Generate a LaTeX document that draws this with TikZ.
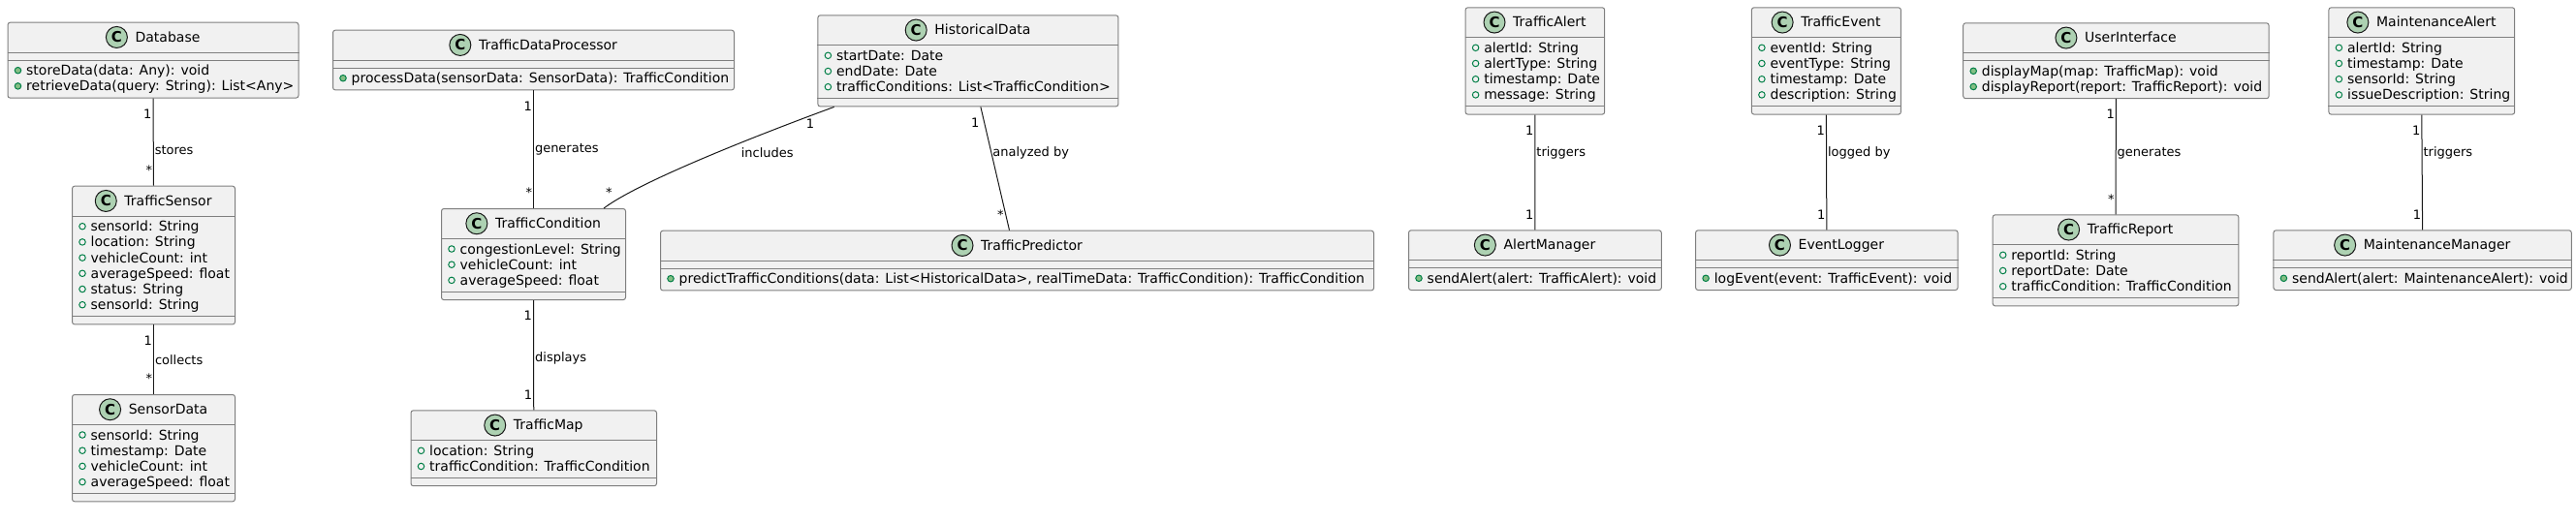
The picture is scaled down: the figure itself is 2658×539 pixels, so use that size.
\documentclass[tikz,border=0pt]{standalone}
\usepackage{fontspec}
\setmainfont{DejaVu Sans}
\usepackage{tikz}
\usetikzlibrary{calc}
\definecolor{clsfill}{HTML}{F1F1F1}
\definecolor{clsborder}{HTML}{7F7F7F}
\definecolor{clsstroke}{HTML}{181818}
\definecolor{clsicon}{HTML}{ADD1B2}
\definecolor{visgreen}{HTML}{038048}
\definecolor{vislight}{HTML}{84BE84}
\tikzset{
  classbox/.style   = {rectangle, rounded corners=2.5pt, draw=clsborder, line width=1pt,
                       fill=clsfill, inner sep=0pt, anchor=north west},
  classline/.style  = {draw=clsborder, line width=1pt},
  ctitle/.style     = {inner sep=0pt, text height=13pt, text depth=3.3pt,
                       font=\fontsize{14}{16}\selectfont},
  cicon/.style      = {circle, draw=clsstroke, fill=clsicon, line width=1pt, minimum size=22pt,
                       inner sep=0pt, font=\fontsize{15}{15}\selectfont\bfseries},
  member/.style     = {inner sep=0pt, anchor=base west, font=\fontsize{14}{16}\selectfont},
  fieldicon/.style  = {circle, draw=visgreen, line width=1pt, minimum size=6.5pt, inner sep=0pt},
  methodicon/.style = {fieldicon, fill=vislight},
  assoc/.style      = {draw=clsstroke, line width=1pt},
  lbl/.style        = {inner sep=1pt, anchor=west, font=\fontsize{13}{15}\selectfont},
  mult/.style       = {inner sep=0pt, text height=9.5pt, text depth=0pt,
                       font=\fontsize{13}{15}\selectfont},
  mtail/.style      = {mult, at start, anchor=east, xshift=-1pt, yshift=-16pt},
  mhead/.style      = {mult, at end, anchor=east, xshift=-1pt, yshift=16pt},
}
% number of entries in a list -> #2
\newcommand{\countlist}[2]{\def\tmplist{#1}%
  \ifx\tmplist\empty\gdef#2{0}\else\foreach \x [count=\k] in {#1} {\xdef#2{\k}}\fi}
% id, top left, width, name, fields, methods
\newcommand{\umlclass}[6]{%
  \countlist{#5}{\nfields}\countlist{#6}{\nmethods}%
  \pgfmathsetmacro{\secA}{\nfields==0 ? 8 : 16.2*\nfields+6}%
  \pgfmathsetmacro{\secB}{\nmethods==0 ? 8 : 16.2*\nmethods+6}%
  \pgfmathsetmacro{\sepB}{31.5+\secA}%
  \pgfmathsetmacro{\boxh}{\sepB+\secB}%
  \node[classbox, minimum width=#3pt, minimum height=\boxh pt] (#1) at (#2) {};
  \draw[classline] ([yshift=-31.5pt]#1.north west) -- ([yshift=-31.5pt]#1.north east);
  \draw[classline] ([yshift=-\sepB*1pt]#1.north west) -- ([yshift=-\sepB*1pt]#1.north east);
  \node[ctitle] (#1-name) at ([xshift=15pt, yshift=-15.75pt]#1.north) {#4};
  \node[cicon] (#1-icon) at ([xshift=-19pt]#1-name.west) {C};
  \ifnum\nfields>0
    \foreach \m [count=\k] in {#5} {
      \pgfmathsetmacro{\by}{31.5+15.5+16.2*(\k-1)}
      \node[fieldicon] at ([xshift=11pt, yshift={-(\by-5)*1pt}]#1.north west) {};
      \node[member] at ([xshift=19.5pt, yshift=-\by*1pt]#1.north west) {\m};
    }
  \fi
  \ifnum\nmethods>0
    \foreach \m [count=\k] in {#6} {
      \pgfmathsetmacro{\by}{\sepB+15.5+16.2*(\k-1)}
      \node[methodicon] at ([xshift=11pt, yshift={-(\by-5)*1pt}]#1.north west) {};
      \node[member] at ([xshift=19.5pt, yshift=-\by*1pt]#1.north west) {\m};
    }
  \fi
}

\begin{document}
\begin{tikzpicture}[x=1pt, y=-1pt]
  \useasboundingbox (0,0) rectangle (2658,539);

  \umlclass{db}{7.5,22.7}{300}{Database}{}
    {storeData(data: Any): void, retrieveData(query: String): List<Any>}
  \umlclass{ts}{74,191.7}{168}{TrafficSensor}
    {sensorId: String, location: String, vehicleCount: int, averageSpeed: float,
     status: String, sensorId: String}{}
  \umlclass{sd}{74,407}{168}{SensorData}
    {sensorId: String, timestamp: Date, vehicleCount: int, averageSpeed: float}{}
  \umlclass{tdp}{343,30.7}{414}{TrafficDataProcessor}{}
    {processData(sensorData: SensorData): TrafficCondition}
  \umlclass{tc}{455,215}{190}{TrafficCondition}
    {congestionLevel: String, vehicleCount: int, averageSpeed: float}{}
  \umlclass{tm}{423.5,423.3}{253.5}{TrafficMap}
    {location: String, trafficCondition: TrafficCondition}{}
  \umlclass{hd}{843.4,15.3}{310}{HistoricalData}
    {startDate: Date, endDate: Date, trafficConditions: List<TrafficCondition>}{}
  \umlclass{tp}{681,237.7}{736}{TrafficPredictor}{}
    {{predictTrafficConditions(data: List<HistoricalData>, realTimeData: TrafficCondition): TrafficCondition}}
  \umlclass{ta}{1511.6,7.3}{143.6}{TrafficAlert}
    {alertId: String, alertType: String, timestamp: Date, message: String}{}
  \umlclass{am}{1453,237.3}{260.8}{AlertManager}{}
    {sendAlert(alert: TrafficAlert): void}
  \umlclass{te}{1806.9,7.3}{154}{TrafficEvent}
    {eventId: String, eventType: String, timestamp: Date, description: String}{}
  \umlclass{el}{1749.1,237.3}{270.5}{EventLogger}{}
    {logEvent(event: TrafficEvent): void}
  \umlclass{ui}{2025.2,23.3}{315.4}{UserInterface}{}
    {displayMap(map: TrafficMap): void, displayReport(report: TrafficReport): void}
  \umlclass{tr}{2055.7,221.3}{253.6}{TrafficReport}
    {reportId: String, reportDate: Date, trafficCondition: TrafficCondition}{}
  \umlclass{ma}{2402.4,7.3}{191.8}{MaintenanceAlert}
    {alertId: String, timestamp: Date, sensorId: String, issueDescription: String}{}
  \umlclass{mm}{2345.4,237.3}{307.4}{MaintenanceManager}{}
    {sendAlert(alert: MaintenanceAlert): void}

  \draw[assoc] (db.south) -- node[lbl, pos=0.59]{stores}
    node[mtail]{1} node[mhead]{*} (ts.north);
  \draw[assoc] (ts.south) -- node[lbl, pos=0.51]{collects}
    node[mtail]{1} node[mhead]{*} (sd.north);
  \draw[assoc] (tdp.south) -- node[lbl, pos=0.5]{generates}
    node[mtail]{1} node[mhead]{*} (tc.north);
  \draw[assoc] (tc.south) -- node[lbl, pos=0.53]{displays}
    node[mtail]{1} node[mhead]{1} (tm.north);
  \draw[assoc] ([xshift=17.3pt]hd.south west) .. controls +(-60,22) and +(40,-30) ..
    node[lbl, pos=0.38, xshift=-5pt, yshift=-11.7pt]{includes}
    node[mult, at start, anchor=east, xshift=-20pt, yshift=-17pt]{1}
    node[mult, at end, anchor=west, xshift=1.5pt, yshift=16pt]{*} ([xshift=-23pt]tc.north east);
  \draw[assoc] ([xshift=13pt]hd.south) -- node[lbl, pos=0.37]{analyzed by}
    node[mtail]{1} node[mhead, xshift=-4.5pt]{*} ([xshift=-8pt]tp.north);
  \draw[assoc] (ta.south) -- node[lbl, pos=0.33]{triggers}
    node[mtail]{1} node[mhead]{1} (am.north);
  \draw[assoc] (te.south) -- node[lbl, pos=0.33]{logged by}
    node[mtail]{1} node[mhead]{1} (el.north);
  \draw[assoc] (ui.south) -- node[lbl, pos=0.47]{generates}
    node[mtail]{1} node[mhead]{*} (tr.north);
  \draw[assoc] (ma.south) -- node[lbl, pos=0.33]{triggers}
    node[mtail]{1} node[mhead]{1} (mm.north);
\end{tikzpicture}
\end{document}
